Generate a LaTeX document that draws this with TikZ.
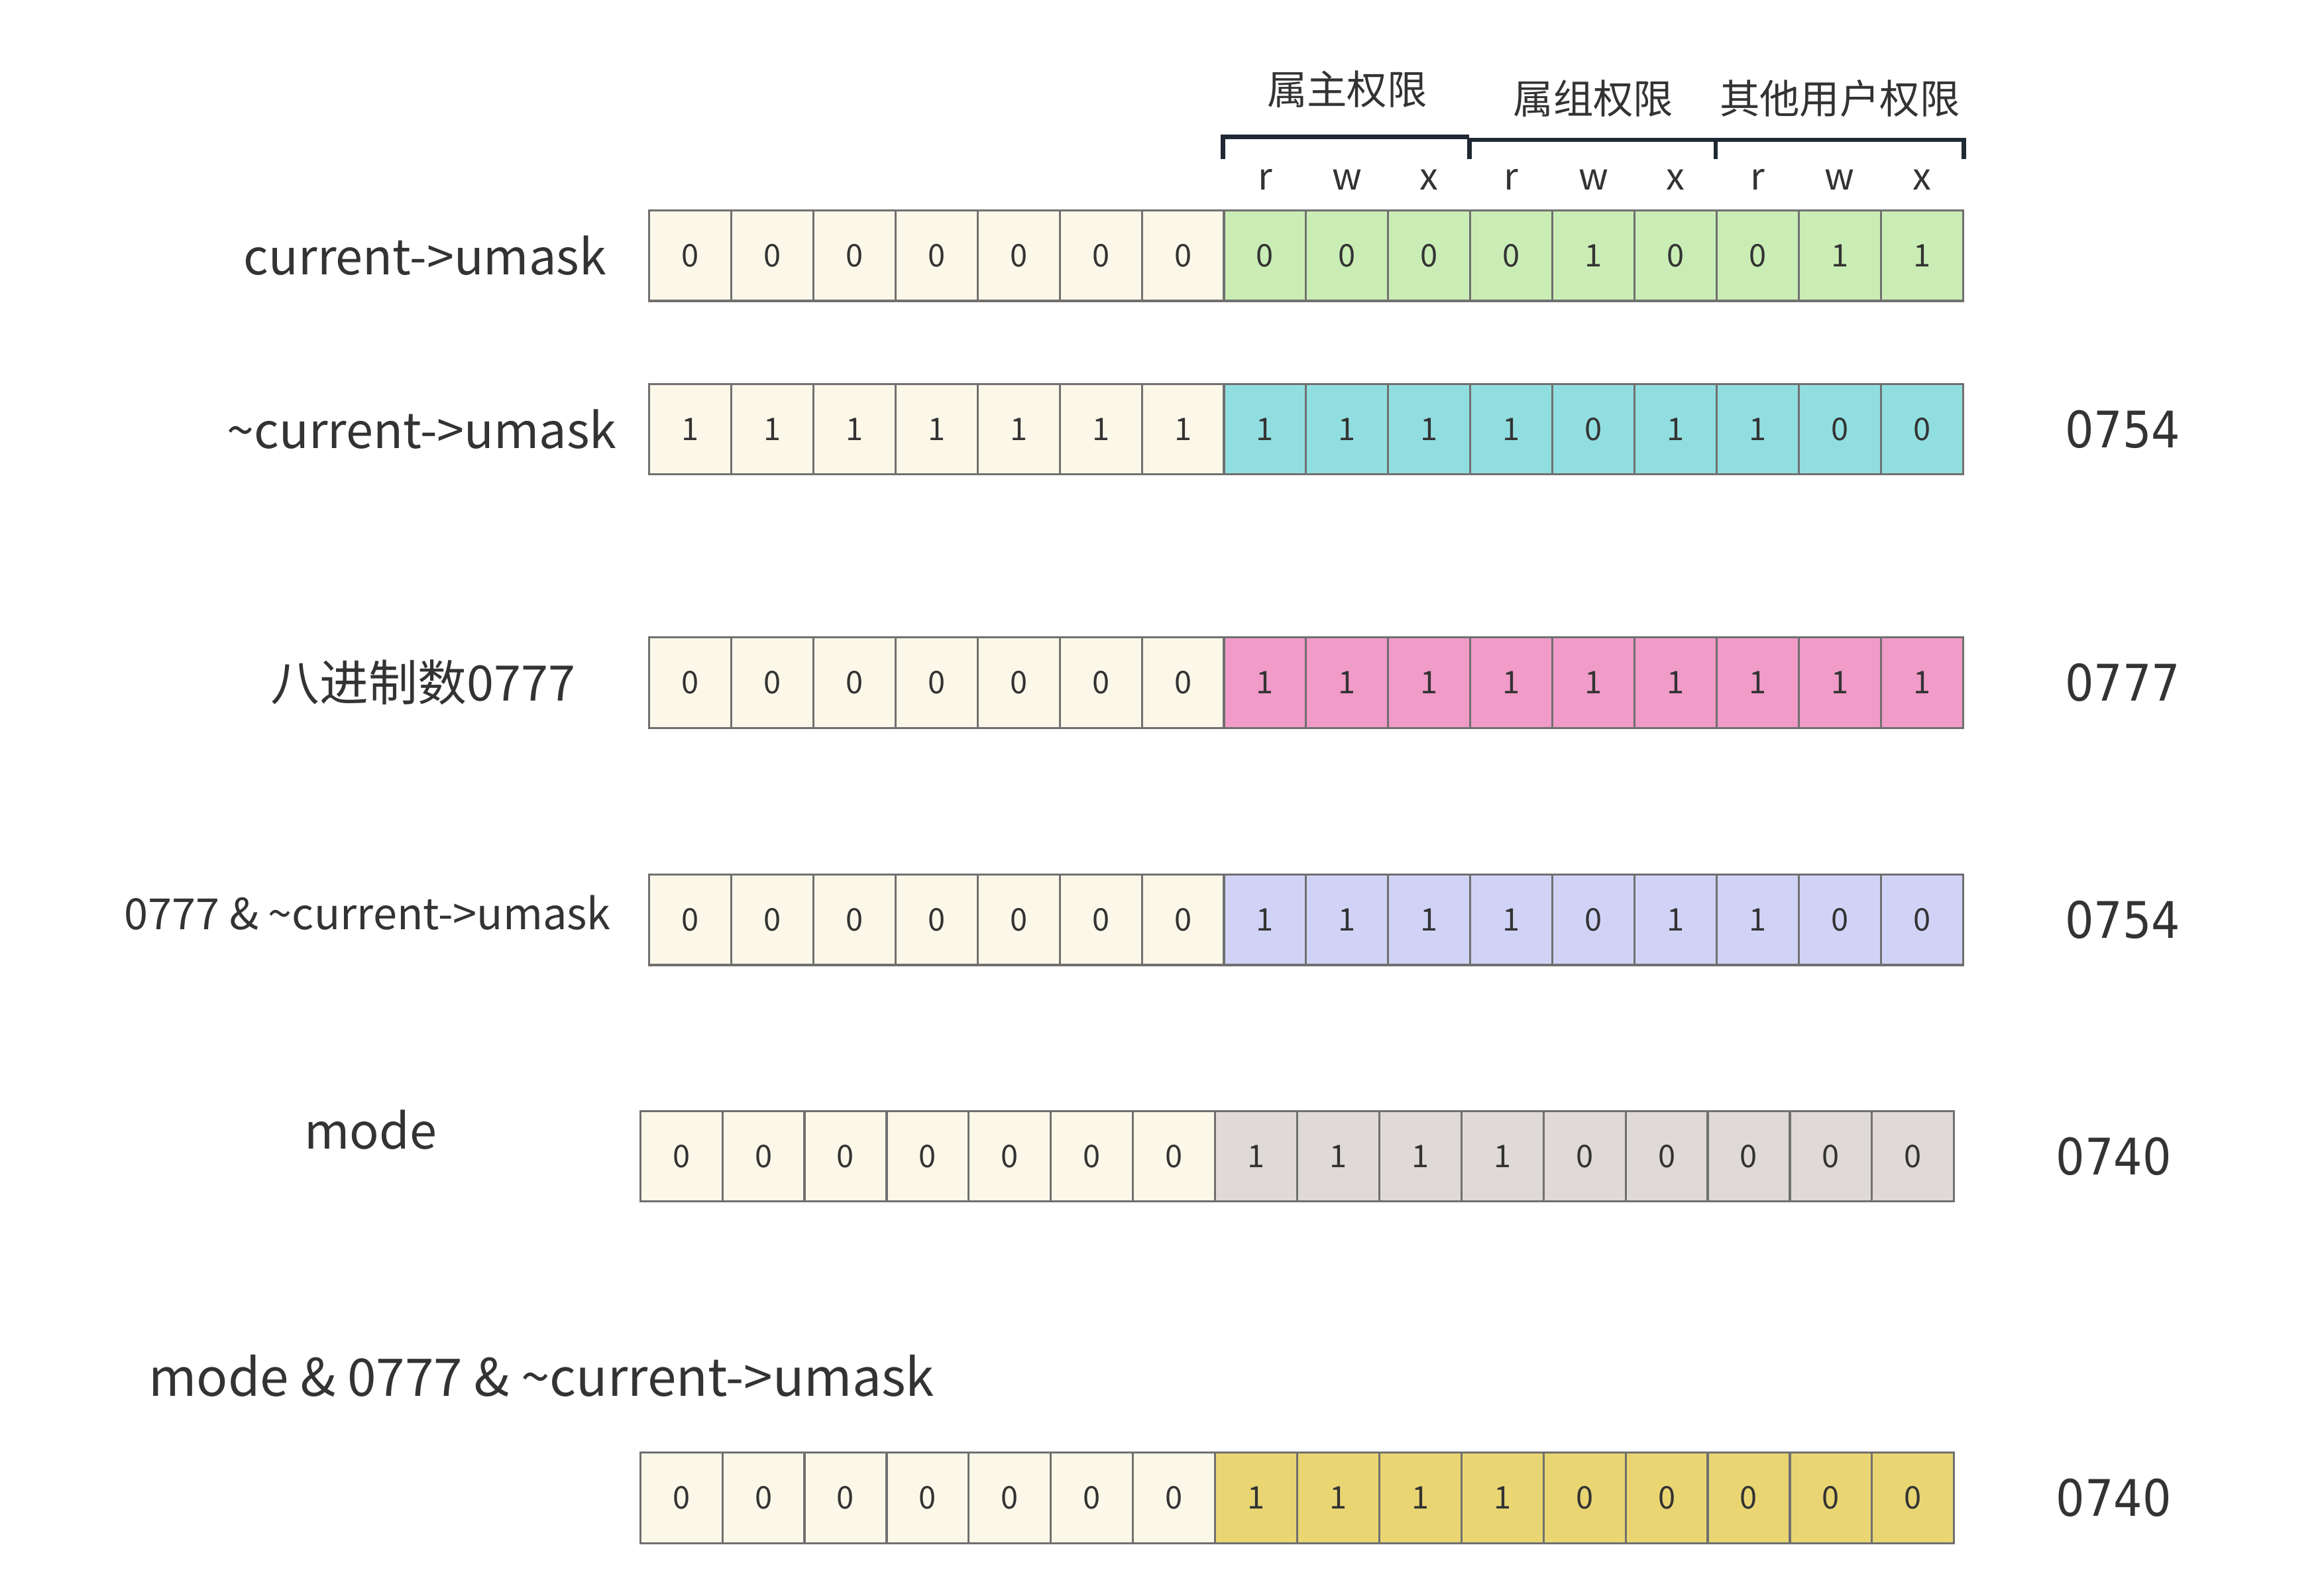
\documentclass[tikz,border=0pt]{standalone}
\usepackage{fontspec}
\setmainfont{Noto Sans CJK SC}
\newfontfamily\valfont[FakeStretch=0.9]{DejaVu Sans}
\usepackage{xcolor}
\usetikzlibrary{positioning}

\definecolor{cream}{HTML}{FCF8E9}
\definecolor{umaskgreen}{HTML}{CAEDB5}
\definecolor{notcyan}{HTML}{91DEE0}
\definecolor{octpink}{HTML}{F19BC8}
\definecolor{andblue}{HTML}{D1D3F6}
\definecolor{modegray}{HTML}{DFDAD7}
\definecolor{resyellow}{HTML}{E9D673}
\definecolor{cellline}{HTML}{707070}
\definecolor{inkgray}{HTML}{333333}
\definecolor{bracketink}{HTML}{1F2933}

\tikzset{
  cell/.style={draw=cellline, line width=1.4pt, minimum width=55.4pt, minimum height=61pt,
    inner sep=0pt, text=inkgray, font=\fontsize{21}{24}\selectfont},
  lbl/.style={inner sep=0pt, text=inkgray, font=\fontsize{33}{40}\selectfont},
  smalllbl/.style={inner sep=0pt, text=inkgray, font=\fontsize{29}{34}\selectfont},
  biglbl/.style={inner sep=0pt, text=inkgray, font=\fontsize{35}{40}\selectfont},
  val/.style={inner sep=0pt, text=inkgray, font=\valfont\fontsize{34}{40}\selectfont},
  perm/.style={inner sep=0pt, text=inkgray, font=\fontsize{25}{30}\selectfont},
  group/.style={inner sep=0pt, text=inkgray, font=\fontsize{27}{32}\selectfont},
  brace/.style={draw=bracketink, line width=3pt}
}

% one row of 16 bits: name, left x, centre y, colour of the low 9 bits, bits
\newcommand{\bitrow}[5]{%
  \foreach \b [count=\i from 0] in {#5} {
    \ifnum\i<7 \def\cellcol{cream}\else \def\cellcol{#4}\fi
    \node[cell, fill=\cellcol] (#1-\i) at ({#2+55.4*(\i+0.5)}, #3) {\b};
  }%
}

\begin{document}
\begin{tikzpicture}[x=1pt, y=-1pt]
    \useasboundingbox (0,0) rectangle (1568,1076.2);

    \bitrow{cu}{438}{172.5}{umaskgreen}{0,0,0,0,0,0,0,0,0,0,0,1,0,0,1,1}
    \bitrow{nc}{438}{289.5}{notcyan}{1,1,1,1,1,1,1,1,1,1,1,0,1,1,0,0}
    \bitrow{oct}{438}{460.5}{octpink}{0,0,0,0,0,0,0,1,1,1,1,1,1,1,1,1}
    \bitrow{and}{438}{620.5}{andblue}{0,0,0,0,0,0,0,1,1,1,1,0,1,1,0,0}
    \bitrow{mode}{432}{780}{modegray}{0,0,0,0,0,0,0,1,1,1,1,0,0,0,0,0}
    \bitrow{res}{432}{1010.5}{resyellow}{0,0,0,0,0,0,0,1,1,1,1,0,0,0,0,0}

    % row names
    \node[lbl, left=28pt of cu-0] (cu-name) {current->umask};
    \node[lbl, left=21pt of nc-0] (nc-name) {\char`\~current->umask};
    \node[lbl, left=49pt of oct-0] (oct-name) {八进制数0777};
    \node[smalllbl, left=25pt of and-0, yshift=5pt] (and-name) {0777 \& \char`\~current->umask};
    \node[lbl] (mode-name) at (250,762) {mode};
    \node[biglbl, anchor=west] (res-name) at (100,928) {mode \& 0777 \& \char`\~current->umask};

    % octal values
    \node[val, right=68pt of nc-15] (nc-val) {0754};
    \node[val, right=68pt of oct-15] (oct-val) {0777};
    \node[val, right=68pt of and-15] (and-val) {0754};
    \node[val, right=68pt of mode-15] (mode-val) {0740};
    \node[val, right=68pt of res-15] (res-val) {0740};

    % rwx and groups
    \foreach \p [count=\k from 7] in {r,w,x,r,w,x,r,w,x}
        \node[perm, anchor=base] (perm-\k) at ([yshift=13pt]cu-\k.north) {\p};

    \draw[brace] ([yshift=34pt]cu-7.north west) -- ([yshift=49pt]cu-7.north west) -- ([yshift=49pt]cu-10.north west);
    \draw[brace] ([yshift=34pt]cu-10.north west) -- ([yshift=47pt]cu-10.north west) -- ([yshift=47pt]cu-15.north east) -- ([yshift=34pt]cu-15.north east);
    \draw[brace] ([yshift=34pt]cu-13.north west) -- ([yshift=47pt]cu-13.north west);

    \node[group] (owner) at ([yshift=81pt]cu-8.north) {属主权限};
    \node[group] (grp) at ([yshift=75pt]cu-11.north) {属组权限};
    \node[group] (other) at ([yshift=75pt]cu-14.north) {其他用户权限};

\end{tikzpicture}
\end{document}
